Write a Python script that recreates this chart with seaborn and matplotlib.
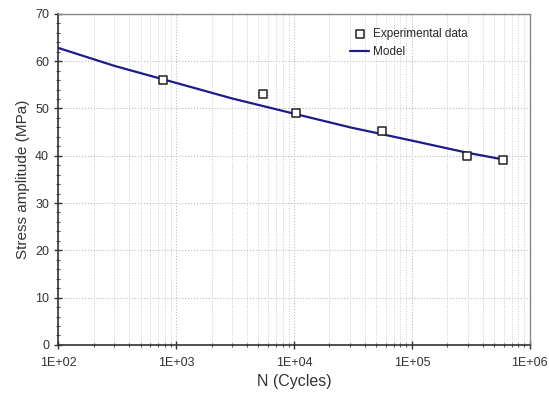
import numpy as np
import pandas as pd
import matplotlib
matplotlib.use("Agg")
import matplotlib.pyplot as plt
import matplotlib.ticker as mticker
import seaborn as sns

exp_cycles = [775, 5500, 10500, 56000, 295000, 590000]
exp_stress = [56.0, 53.1, 49.0, 45.2, 40.0, 39.2]

# Model curve
model_cycles = [1e2, 3e2, 1e3, 3e3, 1e4, 3e4, 1e5, 3e5, 6e5]
model_stress = [62.8, 59.0, 55.4, 52.1, 48.9, 46.0, 43.2, 40.6, 39.2]

sns.set_style("white")
plt.rcParams["font.family"] = ["Liberation Sans", "DejaVu Sans"]

exp_df = pd.DataFrame({"N": exp_cycles, "S": exp_stress})
model_df = pd.DataFrame({"N": model_cycles, "S": model_stress})

fig = plt.figure(figsize=(5.49, 3.96), dpi=100)
ax = fig.add_axes([0.106, 0.129, 0.859, 0.836])

sns.lineplot(data=model_df, x="N", y="S", ax=ax, color="#1c1c8a", linewidth=1.6,
             label="Model", zorder=3)
sns.scatterplot(data=exp_df, x="N", y="S", ax=ax, marker="s", s=32,
                facecolor="white", edgecolor="#222222", linewidth=1.1,
                label="Experimental data", zorder=4)

ax.set_xscale("log")
ax.set_xlim(1e2, 1e6)
ax.set_ylim(0, 70)
ax.xaxis.set_major_locator(mticker.LogLocator(base=10, numticks=10))
ax.xaxis.set_minor_locator(mticker.LogLocator(base=10, subs=np.arange(2, 10), numticks=10))
ax.xaxis.set_major_formatter(mticker.FuncFormatter(lambda v, p: "1E+%02d" % round(np.log10(v))))
ax.xaxis.set_minor_formatter(mticker.NullFormatter())
ax.yaxis.set_major_locator(mticker.MultipleLocator(10))
ax.yaxis.set_minor_locator(mticker.MultipleLocator(2))

ax.grid(which="major", axis="both", color="#bbbbbb", linestyle=":", linewidth=0.8)
ax.grid(which="minor", axis="x", color="#cccccc", linestyle=":", linewidth=0.7)

ax.tick_params(which="major", direction="inout", length=6, width=1, colors="#333333",
               labelsize=9, left=True, bottom=True)
ax.tick_params(which="minor", direction="inout", length=3, width=0.8, colors="#555555",
               left=True, bottom=True)
ax.tick_params(axis="x", pad=6)

for side in ["left", "bottom"]:
    ax.spines[side].set_color("#333333")
    ax.spines[side].set_linewidth(1.2)
for side in ["top", "right"]:
    ax.spines[side].set_color("#888888")
    ax.spines[side].set_linewidth(1.0)

ax.set_xlabel("N (Cycles)", fontsize=11.5, color="#333333", labelpad=3)
ax.set_ylabel("Stress amplitude (MPa)", fontsize=11, color="#333333", labelpad=4)

handles, labels = ax.get_legend_handles_labels()
order = [labels.index("Experimental data"), labels.index("Model")]
ax.legend([handles[i] for i in order], [labels[i] for i in order],
          loc="upper right", bbox_to_anchor=(0.89, 0.99), frameon=False, fontsize=8.5,
          handlelength=1.6, handletextpad=0.3, facecolor="white")

plt.savefig("out.png", dpi=100)
